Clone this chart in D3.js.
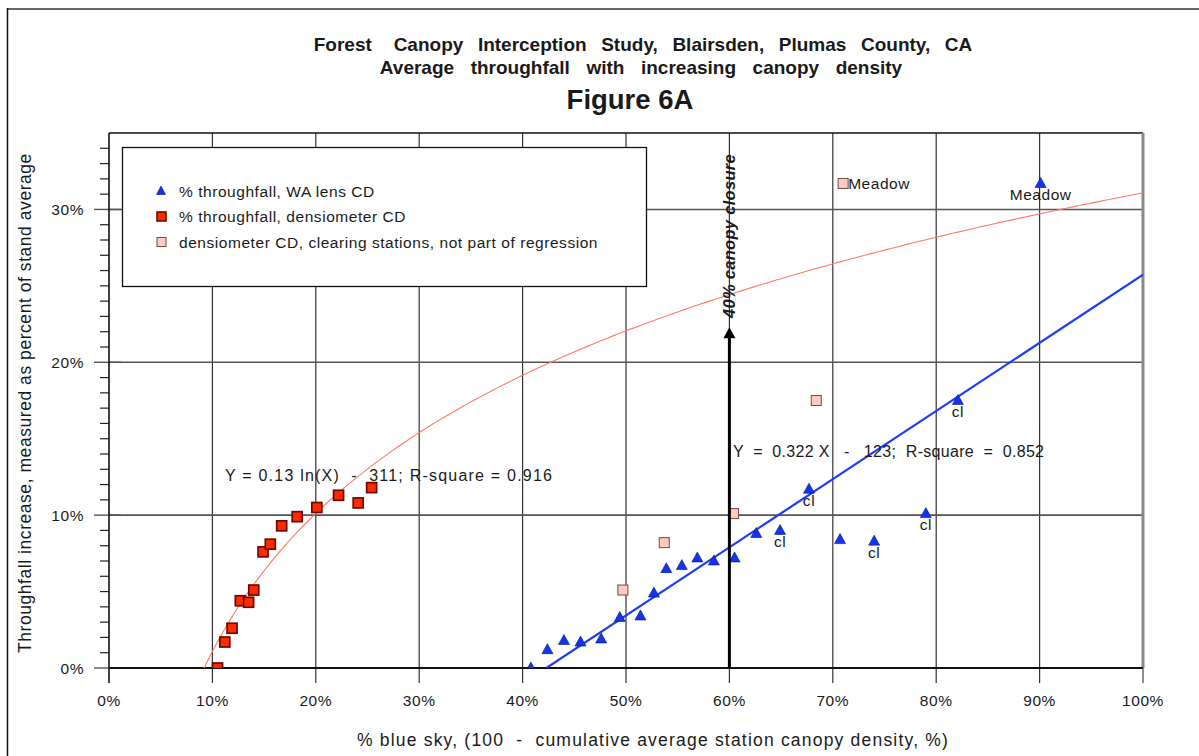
<!DOCTYPE html>
<html>
<head>
<meta charset="utf-8">
<script src="https://cdn.jsdelivr.net/npm/d3@7"></script>
<style>
  html, body { margin: 0; padding: 0; background: #fff; }
  svg { display: block; }
  text { font-family: "Liberation Sans", Arial, sans-serif; fill: #1a1a1a; }
  .pre { white-space: pre; }
  .lbl { font-size: 15.5px; letter-spacing: 0.55px; }
  .eq { font-size: 16px; }
</style>
</head>
<body>
<svg id="chart" width="1199" height="756"></svg>
<script>
// Tick values (percent)
const xTickValues = [0, 10, 20, 30, 40, 50, 60, 70, 80, 90, 100];
const yTickValues = [0, 10, 20, 30];
const yMinorTicks = d3.range(1, 35);

// % throughfall, densiometer CD
const densX = [10.5, 11.2, 11.9, 12.7, 13.5, 14.0, 14.9, 15.6, 16.7, 18.2, 20.1, 22.2, 24.1, 25.4];
const densY = [0.0, 1.7, 2.6, 4.4, 4.3, 5.1, 7.6, 8.1, 9.3, 9.9, 10.5, 11.3, 10.8, 11.8];

// densiometer CD, clearing stations (not in regression)
const clearX = [49.7, 53.7, 60.4, 68.4, 71.0];
const clearY = [5.1, 8.2, 10.1, 17.5, 31.7];
const clearLabels = ["", "", "", "", "Meadow"];

// % throughfall, WA lens CD
const lensX = [40.8, 42.4, 44.0, 45.6, 47.6, 49.4, 51.4, 52.7, 53.9, 55.4, 56.9, 58.5, 60.5, 62.6, 64.9, 67.7, 70.7, 74.0, 79.0, 82.1, 90.1];
const lensY = [0.0, 1.2, 1.8, 1.7, 1.9, 3.3, 3.4, 4.9, 6.5, 6.7, 7.2, 7.0, 7.2, 8.8, 9.0, 11.7, 8.4, 8.3, 10.1, 17.5, 31.7];
const lensLabels = ["", "", "", "", "", "", "", "", "", "", "", "", "", "", "cl", "cl", "", "cl", "cl", "cl", "Meadow"];

// Regression fits (percent units)
const logFitA = 13.03, logFitB = -28.92;     // y = a ln(x) + b
const linFitSlope = 0.446, linFitX0 = 42.3;  // y = slope (x - x0)

// 40% canopy closure marker
const closureX = 60, closureTop = 22.3;

const svg = d3.select("#chart");
const margin = { left: 109, right: 1143, top: 133, bottom: 668 };

const x = d3.scaleLinear().domain([0, 100]).range([margin.left, margin.right]);
const y = d3.scaleLinear().domain([0, 35]).range([margin.bottom, margin.top]);

// Outer frame
svg.append("line").attr("x1", 7).attr("x2", 1199).attr("y1", 9).attr("y2", 9)
  .attr("stroke", "#666").attr("stroke-width", 2);
svg.append("line").attr("x1", 7.5).attr("x2", 7.5).attr("y1", 8).attr("y2", 756)
  .attr("stroke", "#111").attr("stroke-width", 1.5);

// Titles
const titles = svg.append("g").attr("text-anchor", "middle");
titles.append("text").attr("class", "pre").attr("x", 643).attr("y", 51)
  .style("font-family", "'Liberation Sans Narrow', 'Liberation Sans', sans-serif")
  .style("font-weight", "bold").style("font-size", "19px").attr("word-spacing", 2)
  .text("Forest   Canopy  Interception  Study,  Blairsden,  Plumas  County,  CA");
titles.append("text").attr("class", "pre").attr("x", 641).attr("y", 74)
  .style("font-family", "'Liberation Sans Narrow', 'Liberation Sans', sans-serif")
  .style("font-weight", "bold").style("font-size", "19px").attr("word-spacing", 3)
  .text("Average  throughfall  with  increasing  canopy  density");
titles.append("text").attr("x", 630).attr("y", 109)
  .style("font-weight", "bold").style("font-size", "27.5px")
  .text("Figure 6A");

// Vertical grid lines
svg.append("g").selectAll("line").data(xTickValues.slice(1, -1)).join("line")
  .attr("x1", d => x(d)).attr("x2", d => x(d))
  .attr("y1", margin.top).attr("y2", margin.bottom + 15)
  .attr("stroke", "#333").attr("stroke-width", 1.2);

// Horizontal grid lines
svg.append("g").selectAll("line").data(yTickValues.slice(1)).join("line")
  .attr("x1", margin.left).attr("x2", margin.right)
  .attr("y1", d => y(d)).attr("y2", d => y(d))
  .attr("stroke", "#555").attr("stroke-width", 1.6);

// Plot frame: top and right
svg.append("line").attr("x1", margin.left).attr("x2", margin.right)
  .attr("y1", margin.top).attr("y2", margin.top).attr("stroke", "#111").attr("stroke-width", 1.5);
svg.append("line").attr("x1", margin.right).attr("x2", margin.right)
  .attr("y1", margin.top).attr("y2", margin.bottom).attr("stroke", "#888").attr("stroke-width", 3);

// Y axis with minor ticks
const yAxisG = svg.append("g");
yAxisG.selectAll("line.minor").data(yMinorTicks.filter(d => d % 10 !== 0)).join("line")
  .attr("class", "minor")
  .attr("x1", margin.left - 9).attr("x2", margin.left)
  .attr("y1", d => y(d)).attr("y2", d => y(d))
  .attr("stroke", "#222").attr("stroke-width", 1.2);
yAxisG.selectAll("line.major").data(yTickValues).join("line")
  .attr("class", "major")
  .attr("x1", margin.left - 15).attr("x2", margin.left + 12)
  .attr("y1", d => y(d)).attr("y2", d => y(d))
  .attr("stroke", "#555").attr("stroke-width", 1.4);
yAxisG.append("line").attr("x1", margin.left).attr("x2", margin.left)
  .attr("y1", margin.top).attr("y2", margin.bottom + 15)
  .attr("stroke", "#111").attr("stroke-width", 1.6);
yAxisG.selectAll("text").data(yTickValues).join("text")
  .attr("class", "lbl")
  .attr("x", margin.left - 25).attr("y", d => y(d) + 5.5)
  .attr("text-anchor", "end")
  .text(d => d + "%");

// X axis
const xAxisG = svg.append("g");
xAxisG.append("line").attr("x1", margin.left).attr("x2", margin.right)
  .attr("y1", margin.bottom).attr("y2", margin.bottom)
  .attr("stroke", "#111").attr("stroke-width", 2);
xAxisG.selectAll("line.tick").data([0, 100]).join("line").attr("class", "tick")
  .attr("x1", d => x(d)).attr("x2", d => x(d))
  .attr("y1", margin.bottom).attr("y2", margin.bottom + 15)
  .attr("stroke", "#444").attr("stroke-width", 1.2);
xAxisG.selectAll("text").data(xTickValues).join("text")
  .attr("class", "lbl")
  .attr("x", d => x(d)).attr("y", 706)
  .attr("text-anchor", "middle")
  .text(d => d + "%");

// Axis titles
svg.append("text").attr("class", "pre").attr("x", 653).attr("y", 746)
  .attr("text-anchor", "middle").style("font-size", "17.5px").style("letter-spacing", "1.2px")
  .text("% blue sky, (100  -  cumulative average station canopy density, %)");
svg.append("text")
  .attr("transform", "translate(31,403) rotate(-90)")
  .attr("text-anchor", "middle").style("font-size", "17.5px").style("letter-spacing", "0.55px")
  .text("Throughfall increase, measured as percent of stand average");

// Legend
const legend = svg.append("g");
legend.append("rect").attr("x", 122.5).attr("y", 147.5).attr("width", 524).attr("height", 139)
  .attr("fill", "#fff").attr("stroke", "#111").attr("stroke-width", 1.3);

const triPath = "M0,-6 L5.5,4 L-5.5,4 Z";
const legendRows = [
  { label: "% throughfall, WA lens CD", kind: "tri" },
  { label: "% throughfall, densiometer CD", kind: "dens" },
  { label: "densiometer CD, clearing stations, not part of regression", kind: "clear" }
];
legendRows.forEach((r, i) => {
  const cy = 191 + i * 25.5;
  if (r.kind === "tri") {
    legend.append("path").attr("d", "M0,-5 L4.5,3.5 L-4.5,3.5 Z").attr("transform", `translate(161,${cy})`)
      .attr("fill", "#1433f0").attr("stroke", "#0a1466").attr("stroke-width", 0.6);
  } else if (r.kind === "dens") {
    legend.append("rect").attr("x", 157).attr("y", cy - 4.5).attr("width", 9).attr("height", 9)
      .attr("fill", "#ff2a00").attr("stroke", "#6b0a00").attr("stroke-width", 1.6);
  } else {
    legend.append("rect").attr("x", 157).attr("y", cy - 4.5).attr("width", 9).attr("height", 9)
      .attr("fill", "#ffcabf").attr("stroke", "#6e4a44").attr("stroke-width", 1);
  }
  legend.append("text").attr("class", "lbl").attr("x", 179).attr("y", cy + 5.5).text(r.label);
});

// Clip for data marks
svg.append("clipPath").attr("id", "plotClip").append("rect")
  .attr("x", margin.left).attr("y", margin.top)
  .attr("width", margin.right - margin.left).attr("height", margin.bottom - margin.top);
const plot = svg.append("g").attr("clip-path", "url(#plotClip)");

// Logarithmic fit curve (densiometer)
const logStart = Math.exp(-logFitB / logFitA);
const logPts = d3.range(logStart, 100.001, 0.5).concat([100]).map(v => [v, logFitA * Math.log(v) + logFitB]);
plot.append("path")
  .attr("d", d3.line().x(d => x(d[0])).y(d => y(Math.max(0, d[1])))(logPts))
  .attr("fill", "none").attr("stroke", "#ff7a66").attr("stroke-width", 1.1);

// Linear fit (WA lens)
plot.append("path")
  .attr("d", d3.line().x(d => x(d)).y(d => y(linFitSlope * (d - linFitX0)))([linFitX0, 100]))
  .attr("fill", "none").attr("stroke", "#1e3cff").attr("stroke-width", 2.2);

// 40% canopy closure arrow
const arrowG = svg.append("g");
arrowG.append("line").attr("x1", x(closureX)).attr("x2", x(closureX))
  .attr("y1", y(0)).attr("y2", y(closureTop) + 8)
  .attr("stroke", "#000").attr("stroke-width", 3);
arrowG.append("path")
  .attr("d", `M${x(closureX)},${y(closureTop)} l6,11 l-12,0 Z`)
  .attr("fill", "#000");
arrowG.append("text")
  .attr("transform", `translate(${x(closureX) + 6},236) rotate(-90)`)
  .attr("text-anchor", "middle")
  .style("font-weight", "bold").style("font-style", "italic").style("font-size", "16.5px")
  .style("letter-spacing", "0.3px")
  .text("40% canopy closure");

// Densiometer points
plot.selectAll("rect.dens").data(densX.map((v, i) => [v, densY[i]])).join("rect")
  .attr("class", "dens")
  .attr("x", d => x(d[0]) - 5).attr("y", d => y(d[1]) - 5)
  .attr("width", 10).attr("height", 10)
  .attr("fill", "#ff2a00").attr("stroke", "#6b0a00").attr("stroke-width", 1.7);

// Clearing station points
plot.selectAll("rect.clear").data(clearX.map((v, i) => [v, clearY[i]])).join("rect")
  .attr("class", "clear")
  .attr("x", d => x(d[0]) - 5).attr("y", d => y(d[1]) - 5)
  .attr("width", 10).attr("height", 10)
  .attr("fill", "#ffcabf").attr("stroke", "#6e4a44").attr("stroke-width", 1);

// WA lens points
plot.selectAll("path.lens").data(lensX.map((v, i) => [v, lensY[i]])).join("path")
  .attr("class", "lens")
  .attr("d", triPath)
  .attr("transform", d => `translate(${x(d[0])},${y(d[1])})`)
  .attr("fill", "#1433f0").attr("stroke", "#0a1466").attr("stroke-width", 0.6);

// Point labels
svg.append("g").selectAll("text").data(clearX.map((v, i) => [v, clearY[i], clearLabels[i]]).filter(d => d[2])).join("text")
  .attr("class", "lbl")
  .attr("x", d => x(d[0]) + 5).attr("y", d => y(d[1]) + 5.5)
  .text(d => d[2]);
svg.append("g").selectAll("text").data(lensX.map((v, i) => [v, lensY[i], lensLabels[i]]).filter(d => d[2])).join("text")
  .attr("class", "lbl")
  .attr("x", d => x(d[0])).attr("y", d => y(d[1]) + 16.5)
  .attr("text-anchor", "middle")
  .text(d => d[2]);

// Regression equations
svg.append("text").attr("class", "pre eq").attr("x", 225).attr("y", 481)
  .attr("textLength", 327).attr("lengthAdjust", "spacing")
  .text("Y = 0.13 ln(X)  -  311; R-square = 0.916");
svg.append("text").attr("class", "pre eq").attr("x", 733).attr("y", 457)
  .attr("textLength", 311).attr("lengthAdjust", "spacing")
  .text("Y  =  0.322 X   -   123;  R-square  =  0.852");
</script>
</body>
</html>
